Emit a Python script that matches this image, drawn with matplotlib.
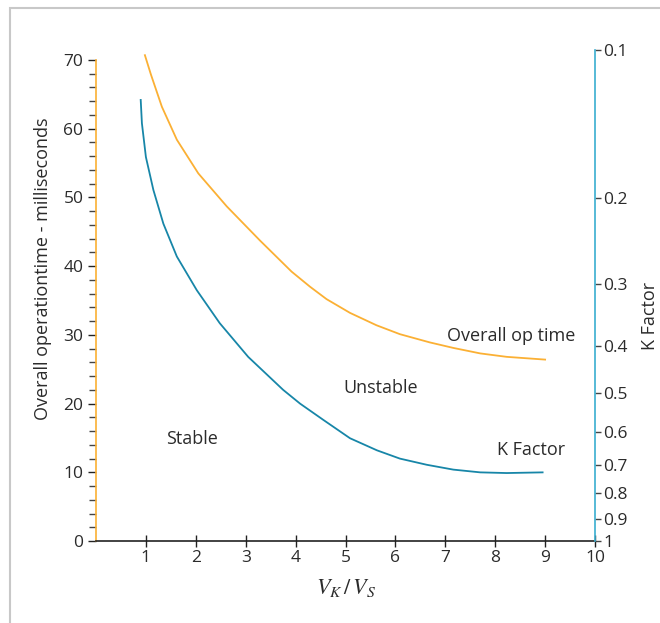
import numpy as np
import matplotlib.pyplot as plt
from matplotlib.ticker import MultipleLocator, FixedLocator, FixedFormatter, NullLocator
from matplotlib.patches import Rectangle

plt.rcParams['font.family'] = ['Open Sans', 'DejaVu Sans']
plt.rcParams['mathtext.fontset'] = 'stix'

# Overall operation time (ms) vs Vk/Vs
op_x = [0.98, 1.10, 1.32, 1.62, 2.05, 2.62, 3.29, 3.92, 4.29, 4.62, 5.09, 5.62, 6.09,
        6.69, 7.16, 7.70, 8.23, 9.0]
op_y = [70.7, 67.9, 63.2, 58.4, 53.5, 48.7, 43.7, 39.2, 37.0, 35.2, 33.2, 31.4, 30.1,
        28.9, 28.1, 27.3, 26.8, 26.4]

# K factor vs Vk/Vs (right log axis)
k_x = [0.896, 0.92, 1.00, 1.15, 1.35, 1.62, 2.02, 2.48, 3.05, 3.75, 4.09, 4.56, 5.09,
       5.63, 6.09, 6.63, 7.16, 7.70, 8.23, 8.95]
k_y = [0.1264, 0.141, 0.1652, 0.1928, 0.2258, 0.2634, 0.3085, 0.3601, 0.4217, 0.4922,
       0.5251, 0.5671, 0.6176, 0.6536, 0.6795, 0.6995, 0.7155, 0.7248, 0.7271, 0.7248]

k_ticks = [0.1, 0.2, 0.3, 0.4, 0.5, 0.6, 0.7, 0.8, 0.9, 1]
k_labels = ['0.1', '0.2', '0.3', '0.4', '0.5', '0.6', '0.7', '0.8', '0.9', '1']

orange = '#fbb034'
teal = '#1786a8'
txt = '#2b2b2b'

fig = plt.figure(figsize=(6.6, 6.23), dpi=100)
fig.patches.append(Rectangle((10/660, -0.05), 1.1, 1 - 8/623 + 0.05, transform=fig.transFigure,
                             fill=False, edgecolor='#c8c8c8', linewidth=1.5))

ax = fig.add_axes([96/660, 82/623, 499/660, 491/623])
ax2 = ax.twinx()

ax.plot(op_x, op_y, color=orange, lw=1.3)
ax2.plot(k_x, k_y, color=teal, lw=1.3)

ax.set_xlim(0, 10)
ax.set_ylim(0, 70 * 491 / 481)
ax2.set_yscale('log')
ax2.set_ylim(1, 0.1)

for a in (ax, ax2):
    a.spines['top'].set_visible(False)
    a.patch.set_visible(False)
ax.spines['right'].set_visible(False)
ax2.spines['left'].set_visible(False)
ax2.spines['bottom'].set_visible(False)
ax.spines['left'].set_color(orange)
ax.spines['left'].set_bounds(0, 70)
ax.spines['bottom'].set_color('#222222')
ax2.spines['right'].set_color('#3aaed0')
for s in ('left', 'bottom'):
    ax.spines[s].set_linewidth(1.2)
ax2.spines['right'].set_linewidth(1.2)

ax.xaxis.set_major_locator(FixedLocator(range(1, 11)))
ax.tick_params(axis='x', direction='inout', length=9, width=1, color='#222222',
               labelsize=12.5, labelcolor=txt, pad=2)
ax.yaxis.set_major_locator(MultipleLocator(10))
ax.yaxis.set_minor_locator(MultipleLocator(2))
ax.tick_params(axis='y', which='major', direction='out', length=6, width=1, color='#222222',
               labelsize=12.5, labelcolor=txt, pad=3)
ax.tick_params(axis='y', which='minor', direction='out', length=5, width=1, color='#444444')

ax2.yaxis.set_major_locator(FixedLocator(k_ticks))
ax2.yaxis.set_major_formatter(FixedFormatter(k_labels))
ax2.yaxis.set_minor_locator(NullLocator())
ax2.tick_params(axis='y', direction='out', length=4, width=1, color='#444444',
                labelsize=12.5, labelcolor=txt, pad=2)

ax.set_xlabel(r'$V_K\,/\,V_S$', fontsize=16, color=txt, labelpad=8)
ax.set_ylabel('Overall operationtime - milliseconds', fontsize=13, color=txt, labelpad=6)
ax.yaxis.set_label_coords(-0.088, 0.555)
ax2.set_ylabel('K Factor', fontsize=13, color=txt, labelpad=6)
ax2.yaxis.set_label_coords(1.093, 0.458)

ax.text(1.92, 14.9, 'Stable', fontsize=13, color=txt, ha='center', va='center')
ax.text(5.71, 22.3, 'Unstable', fontsize=13, color=txt, ha='center', va='center')
ax.text(8.32, 29.9, 'Overall op time', fontsize=13, color=txt, ha='center', va='center')
ax.text(8.72, 13.2, 'K Factor', fontsize=13, color=txt, ha='center', va='center')

fig.savefig('out.png', dpi=100)
